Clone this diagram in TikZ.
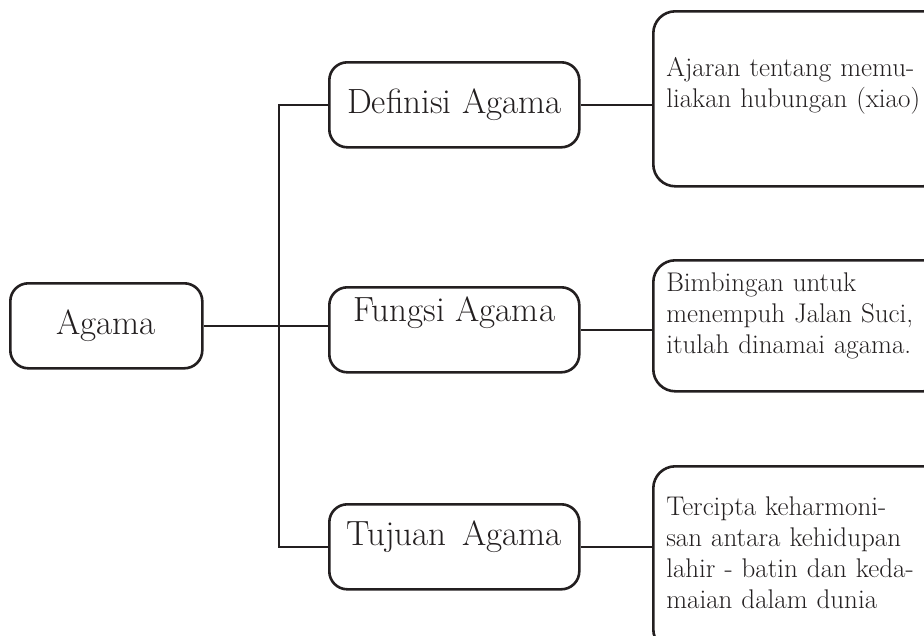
\documentclass[tikz,border=0pt]{standalone}
\usepackage{fontspec}
\definecolor{tinta}{HTML}{231F20}
\begin{document}
\begin{tikzpicture}[x=1pt,y=-1pt,line width=2.6pt,color=tinta]
    \tikzset{
        kotak/.style={draw,rounded corners=18pt,inner sep=0pt,minimum width=250pt,anchor=north west,font=\fontsize{35}{40}\selectfont},
        isi/.style={draw,rounded corners=22pt,inner xsep=13pt,inner ysep=0pt,text width=266pt,align=left,anchor=north west,font=\fontsize{27}{31}\selectfont},}
    \useasboundingbox (0,0) rectangle (924,635);
    \clip (0,0) rectangle (924,635);
    \node [kotak,minimum width=192pt,text height=51pt,text depth=34pt] (agama) at (9,282) {Agama};
    \node [kotak,text height=51pt,text depth=34pt] (def) at (328,61) {Definisi Agama};
    \node [kotak,text height=34pt,text depth=51pt] (fungsi) at (328,286) {Fungsi Agama};
    \node [kotak,text height=41pt,text depth=44pt] (tujuan) at (328,503) {Tujuan\hspace{0.45em}Agama};
    \node [isi,text height=65pt,text depth=110pt] (ajaran) at (652,10) {Ajaran tentang memu-\\liakan hubungan (xiao)};
    \node [isi,text height=31pt,text depth=100pt] (bimbingan) at (652,259) {Bimbingan untuk\\menempuh Jalan Suci,\\itulah dinamai agama.};
    \node [isi,text height=49pt,text depth=136pt] (harmoni) at (652,465) {Tercipta keharmoni-\\san antara kehidupan\\lahir - batin dan keda-\\maian dalam dunia};
    \coordinate (cabang) at (279,0);
    \draw (def.west) -| (cabang |- tujuan.west) -- (tujuan.west);
    \draw (agama.east) -- (agama.east -| fungsi.west);
    % kanan
    \draw (def.east) -- (def.east -| ajaran.west);
    \draw (fungsi.east) -- (fungsi.east -| bimbingan.west);
    \draw (tujuan.east) -- (tujuan.east -| harmoni.west);
\end{tikzpicture}
\end{document}
